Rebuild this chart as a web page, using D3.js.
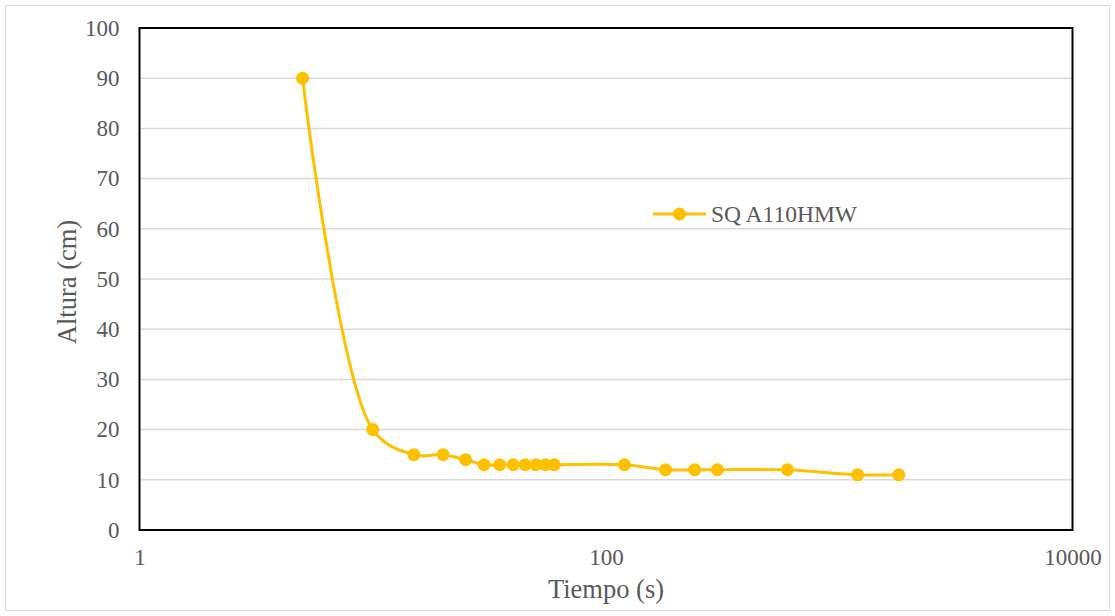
<!DOCTYPE html>
<html><head><meta charset="utf-8">
<script src="https://cdn.jsdelivr.net/npm/d3@7"></script>
<style>body{margin:0;background:#fff}svg{display:block}text{font-family:"Liberation Serif","Times New Roman",serif;fill:#595959}</style>
</head><body>
<script>
const tiempo = [5, 10, 15, 20, 25, 30, 35, 40, 45, 50, 55, 60, 120, 180, 240, 300, 600, 1200, 1800];
const altura = [90, 20, 15, 15, 14, 13, 13, 13, 13, 13, 13, 13, 13, 12, 12, 12, 12, 11, 11];
const seriesName = "SQ A110HMW";
const xTicks = [1, 100, 10000];
const yTicks = [0, 10, 20, 30, 40, 50, 60, 70, 80, 90, 100];

const W = 1115, H = 616;
const m = {l: 139.5, t: 28, r: 1072.5, b: 530};
const svg = d3.select("body").append("svg").attr("width", W).attr("height", H);
svg.append("rect").attr("x", 5.5).attr("y", 5.5).attr("width", W - 11).attr("height", H - 11)
  .attr("fill", "#fff").attr("stroke", "#d9d9d9").attr("stroke-width", 1);

const x = d3.scaleLog().domain([1, 10000]).range([m.l, m.r]);
const y = d3.scaleLinear().domain([0, 100]).range([m.b, m.t]);

// gridlines
svg.append("g").selectAll("line").data(yTicks.filter(d => d > 0)).join("line")
  .attr("x1", m.l).attr("x2", m.r).attr("y1", d => y(d)).attr("y2", d => y(d))
  .attr("stroke", "#d9d9d9").attr("stroke-width", 1.5);

// plot border
svg.append("rect").attr("x", m.l).attr("y", m.t).attr("width", m.r - m.l).attr("height", m.b - m.t)
  .attr("fill", "none").attr("stroke", "#000").attr("stroke-width", 2);

// y axis
const yAxis = d3.axisLeft(y).tickValues(yTicks).tickSize(0).tickPadding(20);
const gy = svg.append("g").attr("transform", `translate(${m.l},0)`).call(yAxis);
gy.select(".domain").remove();
gy.selectAll("text").style("font-size", "23px").attr("fill", "#595959");

// x axis
const xAxis = d3.axisBottom(x).tickValues(xTicks).tickFormat(d3.format("d")).tickSize(0).tickPadding(19);
const gx = svg.append("g").attr("transform", `translate(0,${m.b})`).call(xAxis);
gx.select(".domain").remove();
gx.selectAll("text").style("font-size", "23px").attr("fill", "#595959");

// axis titles
svg.append("text").attr("x", 606).attr("y", 598).attr("text-anchor", "middle")
  .style("font-size", "26.5px").text("Tiempo (s)");
svg.append("text").attr("transform", `translate(76,282) rotate(-90)`)
  .attr("text-anchor", "middle").style("font-size", "26.5px").text("Altura (cm)");

// series
const data = tiempo.map((t, i) => ({t, v: altura[i]}));
const color = "#FFC000";
const line = d3.line().x(d => x(d.t)).y(d => y(d.v)).curve(d3.curveCatmullRom.alpha(0.5));
svg.append("path").datum(data).attr("d", line).attr("fill", "none")
  .attr("stroke", color).attr("stroke-width", 3);
svg.append("g").selectAll("circle").data(data).join("circle")
  .attr("cx", d => x(d.t)).attr("cy", d => y(d.v)).attr("r", 6.5).attr("fill", color);

// legend
const lg = svg.append("g").attr("transform", "translate(653,214)");
lg.append("line").attr("x1", 0).attr("x2", 53).attr("stroke", color).attr("stroke-width", 3);
lg.append("circle").attr("cx", 26.5).attr("r", 6.5).attr("fill", color);
lg.append("text").attr("x", 58).attr("y", 8).style("font-size", "23.5px").text(seriesName);
</script>
</body></html>
